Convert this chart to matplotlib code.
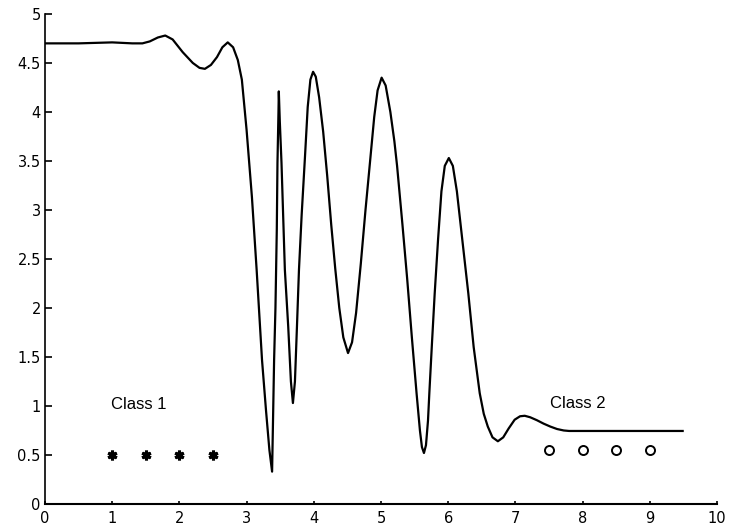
import matplotlib
matplotlib.use("Agg")
import matplotlib.pyplot as plt

# curve
curve_x = [0.0, 0.5, 1.0, 1.3, 1.45, 1.56, 1.68, 1.79, 1.90, 2.05, 2.20, 2.30, 2.38,
           2.47, 2.56, 2.64, 2.72, 2.80, 2.87, 2.93, 3.00, 3.08, 3.15, 3.23, 3.29, 3.34, 3.38,
           3.41, 3.43, 3.45, 3.46, 3.475, 3.48, 3.495, 3.52, 3.57, 3.62, 3.66, 3.69,
           3.72, 3.75, 3.78, 3.82, 3.87, 3.91, 3.95, 3.99,
           4.03, 4.08, 4.14, 4.20, 4.26, 4.32, 4.38, 4.44, 4.51, 4.57, 4.63, 4.70, 4.77,
           4.84, 4.90, 4.95, 5.01, 5.07, 5.14, 5.20, 5.24, 5.32, 5.39, 5.46, 5.53, 5.58,
           5.61, 5.64, 5.67, 5.70, 5.72, 5.76, 5.80, 5.85, 5.90, 5.95, 6.01,
           6.07, 6.13, 6.21, 6.30, 6.38, 6.47, 6.53, 6.59, 6.66, 6.74, 6.82, 6.90,
           6.99, 7.07, 7.14, 7.22, 7.32, 7.42, 7.52, 7.62, 7.72, 7.80, 8.5, 9.49]
curve_y = [4.70, 4.70, 4.71, 4.70, 4.70, 4.72, 4.76, 4.78, 4.74, 4.61, 4.50, 4.45, 4.44,
           4.48, 4.56, 4.66, 4.71, 4.66, 4.53, 4.33, 3.82, 3.13, 2.39, 1.47, 0.95, 0.55, 0.33,
           1.47, 2.00, 2.80, 3.48, 4.00, 4.21, 3.90, 3.48, 2.39, 1.81, 1.25, 1.03,
           1.25, 1.81, 2.39, 2.95, 3.55, 4.05, 4.33, 4.41,
           4.36, 4.15, 3.80, 3.35, 2.85, 2.40, 2.00, 1.70, 1.54, 1.65, 1.95, 2.45, 3.00,
           3.51, 3.95, 4.22, 4.35, 4.27, 4.00, 3.70, 3.45, 2.85, 2.30, 1.70, 1.13, 0.75,
           0.58, 0.52, 0.60, 0.85, 1.13, 1.65, 2.15, 2.70, 3.19, 3.45, 3.53,
           3.45, 3.19, 2.70, 2.15, 1.60, 1.13, 0.92, 0.79, 0.68, 0.64, 0.68, 0.77,
           0.86, 0.895, 0.90, 0.885, 0.855, 0.82, 0.79, 0.765, 0.75, 0.745, 0.745, 0.745]

class1_x = [1.0, 1.5, 2.0, 2.5]
class1_y = [0.5, 0.5, 0.5, 0.5]
class2_x = [7.5, 8.0, 8.5, 9.0]
class2_y = [0.55, 0.55, 0.55, 0.55]

xticks = [0, 1, 2, 3, 4, 5, 6, 7, 8, 9, 10]
yticks = [0, 0.5, 1, 1.5, 2, 2.5, 3, 3.5, 4, 4.5, 5]
ylabels = ["0", "0.5", "1", "1.5", "2", "2.5", "3", "3.5", "4", "4.5", "5"]

plt.rcParams["font.family"] = ["DejaVu Sans"]

fig = plt.figure(figsize=(7.3, 5.29), dpi=100)
ax = fig.add_axes([0.0616, 0.0473, 0.9205, 0.9263])

ax.plot(curve_x, curve_y, color="black", lw=1.6)
ax.plot(class1_x, class1_y, linestyle="none", marker=(6, 2, 0), color="black",
        markersize=7, markeredgewidth=2.2)
ax.plot(class2_x, class2_y, linestyle="none", marker="o", markerfacecolor="white",
        markeredgecolor="black", markeredgewidth=1.4, markersize=6.5)

ax.text(0.99, 1.01, "Class 1", fontsize=12, va="center", ha="left", family="Liberation Sans")
ax.text(7.51, 1.03, "Class 2", fontsize=12, va="center", ha="left", family="Liberation Sans")

ax.set_xlim(0, 10)
ax.set_ylim(0, 5)
ax.set_xticks(xticks)
ax.set_yticks(yticks)
ax.set_yticklabels(ylabels)
ax.spines["top"].set_visible(False)
ax.spines["right"].set_visible(False)
ax.spines["left"].set_linewidth(1.2)
ax.spines["bottom"].set_linewidth(1.5)
ax.tick_params(axis="y", direction="in", length=5, width=1.2, labelsize=10.5, pad=3)
ax.tick_params(axis="x", direction="in", length=2, width=1.2, labelsize=10.5, pad=5)

fig.savefig("out.png", dpi=100)
